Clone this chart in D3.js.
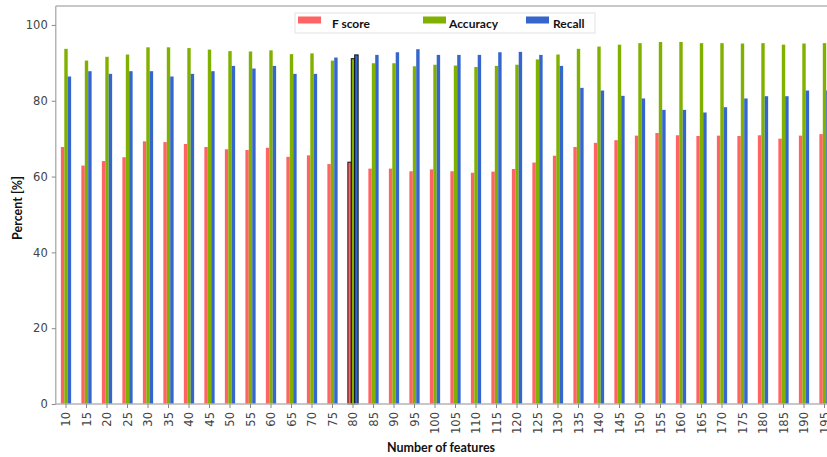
<!DOCTYPE html>
<html lang="en">
<head>
    <meta charset="UTF-8">
    <title>Scores by number of features</title>
    <script src="https://d3js.org/d3.v7.min.js"></script>
    <style>
        body {
            margin: 0;
            background-color: #fff;
        }
        svg {
            display: block;
        }
        .tick-label {
            font-family: 'DejaVu Sans', sans-serif;
            font-size: 11.5px;
            fill: #444;
        }
        .axis-title {
            font-family: 'Lato', 'Open Sans', sans-serif;
            font-size: 12.5px;
            font-weight: bold;
            fill: #111;
        }
        .legend-text {
            font-family: 'Lato', 'Open Sans', sans-serif;
            font-size: 12px;
            font-weight: bold;
            fill: #111;
        }
    </style>
</head>
<body>
    <svg width="827" height="457"></svg>

    <script>
        const features = [10, 15, 20, 25, 30, 35, 40, 45, 50, 55, 60, 65, 70, 75, 80, 85, 90, 95,
            100, 105, 110, 115, 120, 125, 130, 135, 140, 145, 150, 155, 160, 165, 170, 175, 180, 185, 190, 195];

        const fScore = [67.8, 62.9, 64.1, 65.1, 69.3, 69.1, 68.6, 67.8, 67.2, 67.0, 67.6, 65.2, 65.6, 63.3,
            63.8, 62.1, 62.1, 61.4, 61.9, 61.4, 61.0, 61.3, 62.0, 63.7, 65.5, 67.8, 68.9, 69.6, 70.8,
            71.5, 70.9, 70.7, 70.8, 70.7, 70.9, 70.0, 70.8, 71.2];

        const accuracy = [93.7, 90.6, 91.6, 92.2, 94.1, 94.1, 93.9, 93.5, 93.1, 93.0, 93.3, 92.3, 92.5, 90.6,
            91.1, 89.9, 89.9, 89.1, 89.5, 89.3, 88.9, 89.2, 89.5, 90.9, 92.2, 93.7, 94.3, 94.8, 95.2,
            95.5, 95.5, 95.2, 95.2, 95.1, 95.2, 94.8, 95.1, 95.2];

        const recall = [86.4, 87.8, 87.1, 87.8, 87.8, 86.4, 87.1, 87.8, 89.2, 88.5, 89.2, 87.1, 87.1, 91.4,
            92.1, 92.1, 92.8, 93.6, 92.1, 92.1, 92.1, 92.8, 92.9, 92.1, 89.2, 83.4, 82.7, 81.3, 80.6,
            77.6, 77.6, 76.9, 78.3, 80.6, 81.2, 81.2, 82.7, 82.7];

        const seriesNames = ["F score", "Accuracy", "Recall"];
        const seriesValues = [fScore, accuracy, recall];
        const colors = ["#ff6464", "#80b100", "#3566cc"];
        const yTicks = [0, 20, 40, 60, 80, 100];
        const highlighted = 80;

        const svg = d3.select("svg");

        // plot frame: left edge at x 55.75, bars run off the right side like the source
        const x0 = d3.scaleBand(features, [55.75, 834.75])
            .paddingInner(0.5)
            .paddingOuter(0.25);
        const x1 = d3.scaleBand(d3.range(seriesNames.length), [0, x0.bandwidth()]);
        const y = d3.scaleLinear([0, 105], [404, 6]);

        const rows = features.map((f, i) => ({
            feature: f,
            values: seriesValues.map((s, k) => ({ key: k, value: s[i] }))
        }));

        // bars
        const groups = svg.append("g")
            .selectAll("g")
            .data(rows)
            .join("g")
            .attr("transform", d => `translate(${x0(d.feature)},0)`);

        groups.selectAll("rect")
            .data(d => d.values.map(v => ({ ...v, feature: d.feature })))
            .join("rect")
            .attr("x", d => x1(d.key))
            .attr("width", x1.bandwidth())
            .attr("y", d => y(d.value))
            .attr("height", d => y(0) - y(d.value))
            .attr("fill", d => colors[d.key])
            .attr("stroke", d => d.feature === highlighted ? "#111" : "none")
            .attr("stroke-width", 1);

        // spines
        const spine = "#b5b5b5";
        svg.append("line")
            .attr("x1", 55.75).attr("x2", 55.75)
            .attr("y1", y.range()[1]).attr("y2", y(0))
            .attr("stroke", spine).attr("stroke-width", 1.5);
        svg.append("line")
            .attr("x1", 55.75).attr("x2", 827)
            .attr("y1", y.range()[1]).attr("y2", y.range()[1])
            .attr("stroke", spine).attr("stroke-width", 1.5);
        svg.append("line")
            .attr("x1", 55.75).attr("x2", 827)
            .attr("y1", y(0)).attr("y2", y(0))
            .attr("stroke", spine).attr("stroke-width", 1.5);

        // y axis
        const yAxis = svg.append("g")
            .attr("transform", "translate(55.75,0)")
            .call(d3.axisLeft(y).tickValues(yTicks).tickSize(4).tickPadding(4));
        yAxis.select(".domain").remove();
        yAxis.selectAll("line").attr("stroke", "#888");
        yAxis.selectAll("text")
            .attr("class", "tick-label")
            .attr("fill", null);

        // x axis, labels rotated
        const xAxis = svg.append("g")
            .attr("transform", `translate(0,${y(0)})`)
            .call(d3.axisBottom(x0).tickSize(4).tickPadding(4));
        xAxis.select(".domain").remove();
        xAxis.selectAll("line").attr("stroke", "#888");
        xAxis.selectAll("text")
            .attr("class", "tick-label")
            .attr("fill", null)
            .attr("transform", "rotate(-90)")
            .attr("text-anchor", "end")
            .attr("x", -8)
            .attr("y", 0)
            .attr("dy", "0.35em");

        // axis titles
        svg.append("text")
            .attr("class", "axis-title")
            .attr("x", 441)
            .attr("y", 452)
            .attr("text-anchor", "middle")
            .text("Number of features");

        svg.append("text")
            .attr("class", "axis-title")
            .attr("transform", "translate(22,208) rotate(-90)")
            .attr("text-anchor", "middle")
            .text("Percent [%]");

        // legend
        const legend = svg.append("g");
        legend.append("rect")
            .attr("x", 295).attr("y", 13)
            .attr("width", 300).attr("height", 20)
            .attr("fill", "#fff")
            .attr("stroke", "#e2e2e2");

        const legendX = [298, 423, 526];
        const textX = [332, 449, 553];
        seriesNames.forEach((name, i) => {
            legend.append("rect")
                .attr("x", legendX[i]).attr("y", 16.5)
                .attr("width", 23).attr("height", 7)
                .attr("fill", colors[i]);
            legend.append("text")
                .attr("class", "legend-text")
                .attr("x", textX[i])
                .attr("y", 28)
                .text(name);
        });
    </script>
</body>
</html>
